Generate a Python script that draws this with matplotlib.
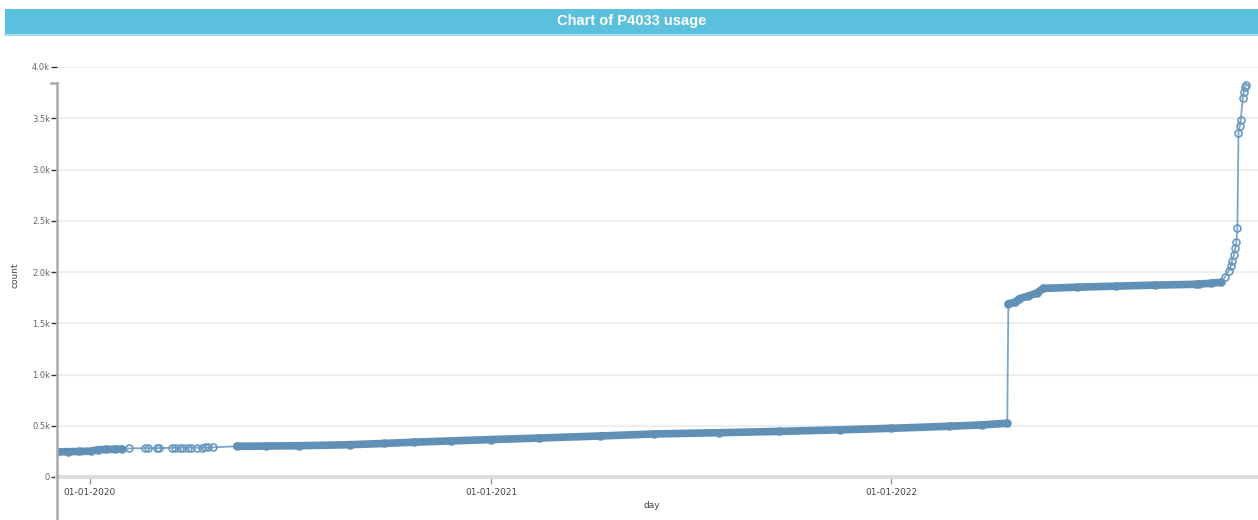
import matplotlib.pyplot as plt
import matplotlib.dates as mdates
import numpy as np
from matplotlib.lines import Line2D
from matplotlib.patches import Rectangle

# daily cumulative usage count of P4033
days = [
    '2019-12-02', '2019-12-12', '2019-12-22', '2020-01-02', '2020-01-08',
    '2020-01-16', '2020-01-24', '2020-01-30',
    '2020-02-06', '2020-02-20', '2020-02-23', '2020-03-02', '2020-03-04',
    '2020-03-16', '2020-03-19', '2020-03-23', '2020-03-26', '2020-03-30',
    '2020-04-02', '2020-04-08', '2020-04-12', '2020-04-15', '2020-04-18',
    '2020-04-22',
    '2020-05-14', '2020-06-10', '2020-07-10', '2020-08-25', '2020-09-25',
    '2020-10-23', '2020-11-25', '2021-01-01', '2021-02-14', '2021-04-10',
    '2021-05-30', '2021-07-28', '2021-09-21', '2021-11-15', '2022-01-01',
    '2022-02-23', '2022-03-25', '2022-04-17',
    '2022-04-18', '2022-04-24', '2022-04-28', '2022-05-06', '2022-05-14',
    '2022-05-20', '2022-06-20', '2022-07-25', '2022-08-30', '2022-10-06',
    '2022-10-09', '2022-10-20', '2022-10-29',
    '2022-11-02', '2022-11-05', '2022-11-07', '2022-11-08', '2022-11-10',
    '2022-11-11', '2022-11-12', '2022-11-13',
    '2022-11-14', '2022-11-15', '2022-11-16', '2022-11-18', '2022-11-19',
    '2022-11-20', '2022-11-21',
]
counts = [
    245, 247, 249, 252, 266,
    269, 271, 273,
    279, 281, 281, 282, 282,
    284, 284, 285, 285, 286,
    286, 287, 287, 288, 288,
    289,
    300, 302, 305, 315, 327,
    340, 352, 365, 380, 400,
    420, 432, 445, 460, 475,
    495, 508, 525,
    1690, 1705, 1740, 1765, 1795,
    1840, 1852, 1862, 1872, 1880,
    1883, 1890, 1900,
    1955, 2010, 2060, 2110, 2170,
    2230, 2290, 2430,
    3360, 3420, 3480, 3700, 3760,
    3800, 3825,
]

# stretches where daily points overlap into a solid band
dense = [('2019-12-02', '2020-01-30'), ('2020-05-14', '2022-04-17'),
         ('2022-04-18', '2022-10-06'), ('2022-10-09', '2022-10-29')]

y_ticks = [0, 500, 1000, 1500, 2000, 2500, 3000, 3500, 4000]
y_labels = ['0', '0.5k', '1.0k', '1.5k', '2.0k', '2.5k', '3.0k', '3.5k', '4.0k']
x_ticks = ['2020-01-01', '2021-01-01', '2022-01-01']
x_labels = ['01-01-2020', '01-01-2021', '01-01-2022']

W, H = 1258, 520
fig = plt.figure(figsize=(W / 100, H / 100), dpi=100)
ax = fig.add_axes([57 / W, 43 / H, 1201 / W, 410 / H])

t = np.array(days, dtype='datetime64[D]')
c = np.array(counts)

ax.plot(t, c, color='#7da6c6', lw=1.3, marker='o', ms=5, mfc='none',
        mec='#6a99bf', mew=1.2, zorder=3)
for start, end in dense:
    m = (t >= np.datetime64(start)) & (t <= np.datetime64(end))
    ax.plot(t[m], c[m], color='#6190b7', lw=5.5, solid_capstyle='round', zorder=4)

origin = mdates.date2num(np.datetime64('2020-01-01'))
ax.set_xlim(origin - 30.1, origin + 1065.8)
ax.set_ylim(0, 4000)

for s in ax.spines.values():
    s.set_visible(False)
ax.set_yticks(y_ticks, y_labels)
ax.set_xticks(mdates.date2num(np.array(x_ticks, dtype='datetime64[D]')), x_labels)
ax.grid(axis='y', color='#eeeeee', lw=1.6)
ax.set_axisbelow(True)
ax.tick_params(axis='y', length=4, width=1, color='#333333', labelsize=6,
               labelcolor='#666666', pad=1)
ax.tick_params(axis='x', length=5, width=1, color='#999999', labelsize=6.5,
               labelcolor='#444444', pad=3)
ax.axhline(0, color='#dddddd', lw=3, zorder=2, clip_on=False)

# y axis domain line, running past the bottom of the plot
fig.add_artist(Line2D([57 / W, 57 / W], [1 - 83 / H, -0.02], color='#aaaaaa', lw=1.8))
fig.add_artist(Line2D([51 / W, 57 / W], [1 - 83 / H, 1 - 83 / H], color='#aaaaaa', lw=1.8))

fig.text(652 / W, 1 - 506 / H, 'day', ha='center', va='center', fontsize=6.5, color='#444444')
fig.text(15 / W, 1 - 275 / H, 'count', ha='center', va='center', rotation=90,
         fontsize=6.5, color='#444444')

# heading bar
fig.add_artist(Rectangle((5 / W, 1 - 34 / H), 1253 / W, 25 / H, transform=fig.transFigure,
                         facecolor='#5bc0de', edgecolor='none'))
fig.add_artist(Line2D([5 / W, 1], [1 - 34.5 / H, 1 - 34.5 / H], color='#a9dcec', lw=1.5))
fig.text(632 / W, 1 - 20.5 / H, 'Chart of P4033 usage', ha='center', va='center',
         fontsize=10.5, fontweight='bold', color='white', family='Liberation Sans')

fig.savefig('out.png', dpi=100)
